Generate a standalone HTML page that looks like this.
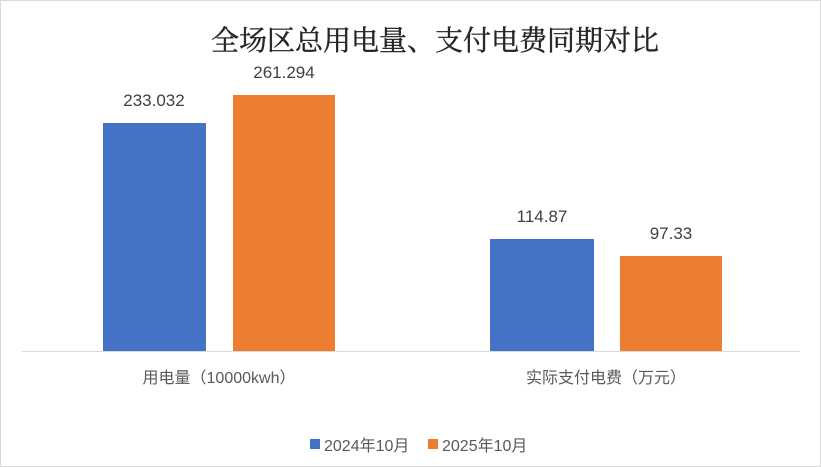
<!DOCTYPE html>
<html><head><meta charset="utf-8"><style>
body{margin:0;background:#fff}
svg{display:block}
</style></head><body>
<svg width="821" height="467" xmlns="http://www.w3.org/2000/svg">
<rect x="0.5" y="0.5" width="820" height="466" fill="#fff" stroke="#d9d9d9"/>
<text x="435" y="50" text-anchor="middle" font-family="'Liberation Serif','Noto Serif CJK SC',serif" font-size="28" fill="#262626" stroke="#262626" stroke-width="0.4">全场区总用电量、支付电费同期对比</text>
<line x1="22" y1="351.5" x2="800" y2="351.5" stroke="#d9d9d9" stroke-width="1"/>
<rect x="103" y="123" width="103" height="228" fill="#4472C4"/>
<rect x="233" y="95" width="102" height="256" fill="#ED7D31"/>
<rect x="490" y="239" width="104" height="112" fill="#4472C4"/>
<rect x="620" y="256" width="102" height="95" fill="#ED7D31"/>
<g font-family="'Liberation Sans','Noto Sans CJK SC',sans-serif" font-size="17" fill="#404040" text-anchor="middle">
<text x="154" y="106">233.032</text>
<text x="284" y="78">261.294</text>
<text x="542" y="222">114.87</text>
<text x="671" y="239">97.33</text>
</g>
<g font-family="'Liberation Sans','Noto Sans CJK SC',sans-serif" font-size="16" fill="#595959" text-anchor="middle">
<text x="219" y="383">用电量（10000kwh）</text>
<text x="606" y="383">实际支付电费（万元）</text>
</g>
<rect x="310" y="439" width="10" height="10" fill="#4472C4"/>
<text x="324" y="451" font-family="'Liberation Sans','Noto Sans CJK SC',sans-serif" font-size="16" fill="#595959">2024年10月</text>
<rect x="428" y="439" width="10" height="10" fill="#ED7D31"/>
<text x="442" y="451" font-family="'Liberation Sans','Noto Sans CJK SC',sans-serif" font-size="16" fill="#595959">2025年10月</text>
</svg>
</body></html>
